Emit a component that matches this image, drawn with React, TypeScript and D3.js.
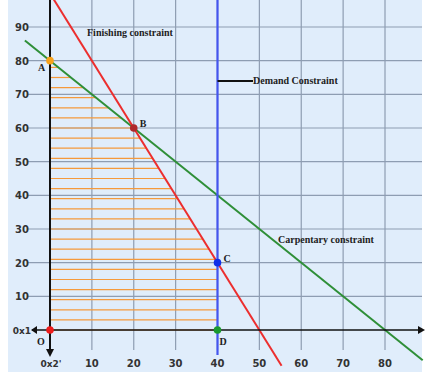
import React from "react";
import * as d3 from "d3";

const xTicks = [10, 20, 30, 40, 50, 60, 70, 80];
const yTicks = [10, 20, 30, 40, 50, 60, 70, 80, 90];
const carpentry = { a: 1, b: 1, c: 80 }; // x + y = 80
const finishing = { a: 2, b: 1, c: 100 }; // 2x + y = 100
const demandX = 40;
const hatchYs = d3.range(0, 79, 3);
const points = [
  { name: "O", x: 0, y: 0, color: "#ee1c1c", dx: -13, dy: 15 },
  { name: "A", x: 0, y: 80, color: "#f7a21b", dx: -12, dy: 10 },
  { name: "B", x: 20, y: 60, color: "#b0282a", dx: 6, dy: -1 },
  { name: "C", x: 40, y: 20, color: "#1030e8", dx: 6, dy: -1 },
  { name: "D", x: 40, y: 0, color: "#1a9a2e", dx: 2, dy: 15 },
];

export default function App() {
  const W = 425, H = 384;
  const x = d3.scaleLinear().domain([0, 80]).range([50, 385]);
  const y = d3.scaleLinear().domain([0, 90]).range([330, 27]);
  const grid = "#8e9db2";
  const hatchEnd = (yy: number) =>
    Math.min(demandX, (carpentry.c - yy) / carpentry.a, (finishing.c - yy) / finishing.a);
  const line = d3.line<[number, number]>().x(d => x(d[0])).y(d => y(d[1]));
  const tickFont = { fontFamily: "DejaVu Sans", fontWeight: 700, fontSize: 10, fill: "#333" } as const;
  const annFont = { fontFamily: "Liberation Serif", fontWeight: 700, fontSize: 10, fill: "#222" } as const;
  return (
    <svg width={W} height={H} style={{ position: "absolute", left: 0, top: 0 }}>
      <rect x={0} y={0} width={W} height={H} fill="#ffffff" />
      <rect x={8} y={0} width={414} height={372} fill="#e0edfb" />
      {/* grid */}
      {yTicks.map(t => (
        <line key={"h" + t} x1={27} x2={422} y1={y(t)} y2={y(t)} stroke={grid} strokeWidth={1.2} />
      ))}
      {xTicks.map(t => (
        <line key={"v" + t} x1={x(t)} x2={x(t)} y1={0} y2={350} stroke={grid} strokeWidth={1.2} />
      ))}
      {/* hatch */}
      {hatchYs.map(h => (
        <line key={"o" + h} x1={x(0)} x2={x(hatchEnd(h))} y1={y(h)} y2={y(h)}
          stroke="#f59a3c" strokeWidth={1.2} />
      ))}
      {/* tick labels */}
      {yTicks.map(t => (
        <text key={"yl" + t} x={29} y={y(t) + 4} textAnchor="end" {...tickFont}>{t}</text>
      ))}
      {xTicks.map(t => (
        <text key={"xl" + t} x={x(t)} y={367} textAnchor="middle" {...tickFont}>{t}</text>
      ))}
      <text x={31} y={334} textAnchor="end" {...tickFont} fontSize={9}>0x1</text>
      <text x={51} y={367} textAnchor="middle" {...tickFont} fontSize={9}>0x2'</text>
      {/* constraint lines */}
      <path d={line([[-6, 86], [89, -9]]) || ""} stroke="#2f8f38" strokeWidth={2} fill="none" />
      <path d={line([[0, 100], [55.3, -10.6]]) || ""} stroke="#ec2e2e" strokeWidth={2} fill="none" />
      <line x1={x(demandX)} x2={x(demandX)} y1={0} y2={355} stroke="#4455ee" strokeWidth={2.2} />
      {/* axes */}
      <line x1={x(0)} x2={x(0)} y1={0} y2={352} stroke="#111" strokeWidth={2} />
      <path d={`M${x(0) - 4},${349} L${x(0) + 4},${349} L${x(0)},${357} Z`} fill="#111" />
      <line x1={32} x2={420} y1={y(0)} y2={y(0)} stroke="#111" strokeWidth={1.6} />
      <path d={`M${418},${y(0) - 4} L${418},${y(0) + 4} L${425},${y(0)} Z`} fill="#111" />
      <path d={`M${37},${y(0) - 4} L${37},${y(0) + 4} L${31},${y(0)} Z`} fill="#111" />
      {/* annotations */}
      <text x={87} y={36} {...annFont}>Finishing constraint</text>
      <line x1={x(demandX)} x2={253} y1={81} y2={81} stroke="#111" strokeWidth={2} />
      <text x={253} y={84} {...annFont}>Demand Constraint</text>
      <text x={278} y={243} {...annFont}>Carpentary constraint</text>
      {points.map(p => (
        <g key={p.name}>
          <circle cx={x(p.x)} cy={y(p.y)} r={3.8} fill={p.color} />
          <text x={x(p.x) + p.dx} y={y(p.y) + p.dy} {...annFont}>{p.name}</text>
        </g>
      ))}
    </svg>
  );
}
